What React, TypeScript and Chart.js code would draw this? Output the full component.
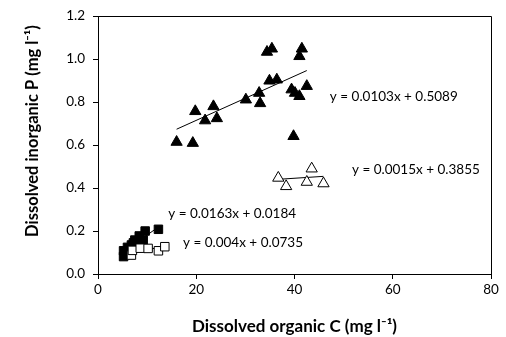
import React, { useEffect, useRef } from 'react';
import { Chart, registerables } from 'chart.js';
Chart.register(...registerables);

// Filled triangles
const triFilledX = [16.0, 19.3, 19.8, 21.8, 23.5, 24.2, 30.1, 32.8, 33.0, 34.4, 34.9, 35.4, 36.4, 39.4, 39.8, 40.1, 41.0, 41.0, 41.5, 42.5];
const triFilledY = [0.614, 0.609, 0.757, 0.714, 0.78, 0.724, 0.811, 0.842, 0.794, 1.033, 0.899, 1.048, 0.904, 0.858, 0.641, 0.842, 0.827, 1.013, 1.048, 0.874];
// Open triangles
const triOpenX = [36.7, 38.3, 42.5, 43.5, 45.9];
const triOpenY = [0.447, 0.408, 0.428, 0.49, 0.421];
// Filled squares
const sqFilledX = [5.2, 5.2, 5.8, 6.0, 6.8, 7.2, 7.5, 8.4, 8.6, 9.2, 9.6, 12.3];
const sqFilledY = [0.081, 0.108, 0.095, 0.124, 0.135, 0.145, 0.158, 0.177, 0.135, 0.158, 0.2, 0.208];
// Open squares
const sqOpenX = [6.8, 7.0, 8.6, 10.2, 12.3, 13.6];
const sqOpenY = [0.088, 0.11, 0.12, 0.119, 0.108, 0.127];

// Trend lines (slope, intercept, x range) and their labels
const trendSlopes = [0.0103, 0.0015, 0.0163, 0.004];
const trendIntercepts = [0.5089, 0.3855, 0.0184, 0.0735];
const trendFrom = [16.0, 36.7, 5.2, 6.8];
const trendTo = [42.5, 45.9, 12.3, 13.6];
const trendLabels = ['y = 0.0103x + 0.5089', 'y = 0.0015x + 0.3855', 'y = 0.0163x + 0.0184', 'y = 0.004x + 0.0735'];
const labelX = [47.2, 51.7, 14.3, 17.3];
const labelY = [0.823, 0.484, 0.279, 0.146];

const xTicks = [0, 20, 40, 60, 80];
const yTicks = [0, 0.2, 0.4, 0.6, 0.8, 1.0, 1.2];
const xTitle = 'Dissolved organic C (mg l\u207B\u00B9)';
const yTitle = 'Dissolved inorganic P (mg l\u207B\u00B9)';

const FONT = 'Lato, "Open Sans", sans-serif';

const zip = (xs: number[], ys: number[]) => xs.map((x, i) => ({ x, y: ys[i] }));

export default function App() {
  const ref = useRef<HTMLCanvasElement | null>(null);
  useEffect(() => {
    if (!ref.current) return;
    const trendSets = trendSlopes.map((m, i) => ({
      type: 'line' as const,
      data: [
        { x: trendFrom[i], y: m * trendFrom[i] + trendIntercepts[i] },
        { x: trendTo[i], y: m * trendTo[i] + trendIntercepts[i] },
      ],
      borderColor: '#000',
      borderWidth: 1,
      pointRadius: 0,
      showLine: true,
      fill: false,
      order: 5,
    }));
    const boxAndText = {
      id: 'boxAndText',
      afterDraw(chart: any) {
        const { ctx, chartArea: a, scales } = chart;
        ctx.save();
        ctx.strokeStyle = '#000';
        ctx.lineWidth = 1;
        ctx.beginPath();
        ctx.moveTo(a.left, Math.round(a.top) + 0.5);
        ctx.lineTo(a.right + 0.5, Math.round(a.top) + 0.5);
        ctx.lineTo(Math.round(a.right) + 0.5, a.bottom);
        ctx.stroke();
        ctx.fillStyle = '#000';
        ctx.font = `13.5px ${FONT}`;
        ctx.textAlign = 'left';
        ctx.textBaseline = 'middle';
        trendLabels.forEach((t, i) => {
          ctx.fillText(t, scales.x.getPixelForValue(labelX[i]), scales.y.getPixelForValue(labelY[i]));
        });
        ctx.font = `bold 17px ${FONT}`;
        ctx.textAlign = 'center';
        ctx.fillText(xTitle, (a.left + a.right) / 2, 327);
        ctx.font = `bold 16.5px ${FONT}`;
        ctx.translate(33, 131);
        ctx.rotate(-Math.PI / 2);
        ctx.fillText(yTitle, 0, 0);
        ctx.restore();
      },
    };
    const chart = new Chart(ref.current, {
      type: 'scatter',
      data: {
        datasets: [
          {
            data: zip(triFilledX, triFilledY),
            pointStyle: 'triangle',
            pointRadius: 6.5,
            backgroundColor: '#000',
            borderColor: '#000',
            borderWidth: 1,
            order: 4,
          },
          {
            data: zip(triOpenX, triOpenY),
            pointStyle: 'triangle',
            pointRadius: 6.5,
            backgroundColor: '#fff',
            borderColor: '#000',
            borderWidth: 1,
            order: 3,
          },
          {
            data: zip(sqFilledX, sqFilledY),
            pointStyle: 'rect',
            pointRadius: 6,
            backgroundColor: '#000',
            borderColor: '#000',
            borderWidth: 1,
            order: 2,
          },
          {
            data: zip(sqOpenX, sqOpenY),
            pointStyle: 'rect',
            pointRadius: 6,
            backgroundColor: '#fff',
            borderColor: '#000',
            borderWidth: 1,
            order: 1,
          },
          ...trendSets,
        ] as any,
      },
      options: {
        animation: false,
        responsive: true,
        maintainAspectRatio: false,
        layout: { padding: { top: 16, right: 15, left: 0, bottom: 0 } },
        plugins: { legend: { display: false }, tooltip: { enabled: false } },
        scales: {
          x: {
            type: 'linear',
            min: 0,
            max: 80,
            afterBuildTicks: (s: any) => { s.ticks = xTicks.map((v) => ({ value: v })); },
            afterFit: (s: any) => { s.height = 63; },
            grid: { drawOnChartArea: false, drawTicks: true, tickLength: 5, color: '#000' },
            border: { display: true, color: '#000', width: 1 },
            ticks: { color: '#000', font: { family: FONT, size: 13.5 }, padding: 3, maxRotation: 0 },
          },
          y: {
            type: 'linear',
            min: 0,
            max: 1.2,
            afterBuildTicks: (s: any) => { s.ticks = yTicks.map((v) => ({ value: v })); },
            afterFit: (s: any) => { s.width = 98; },
            grid: { drawOnChartArea: false, drawTicks: true, tickLength: 5, color: '#000' },
            border: { display: true, color: '#000', width: 1 },
            ticks: {
              color: '#000',
              font: { family: FONT, size: 13.5 },
              padding: 8,
              callback: (v: any) => Number(v).toFixed(1),
            },
          },
        },
      },
      plugins: [boxAndText],
    });
    return () => chart.destroy();
  }, []);
  return (
    <div style={{ position: 'fixed', left: 0, top: 0, width: 506, height: 337, background: '#fff' }}>
      <canvas ref={ref} />
    </div>
  );
}
